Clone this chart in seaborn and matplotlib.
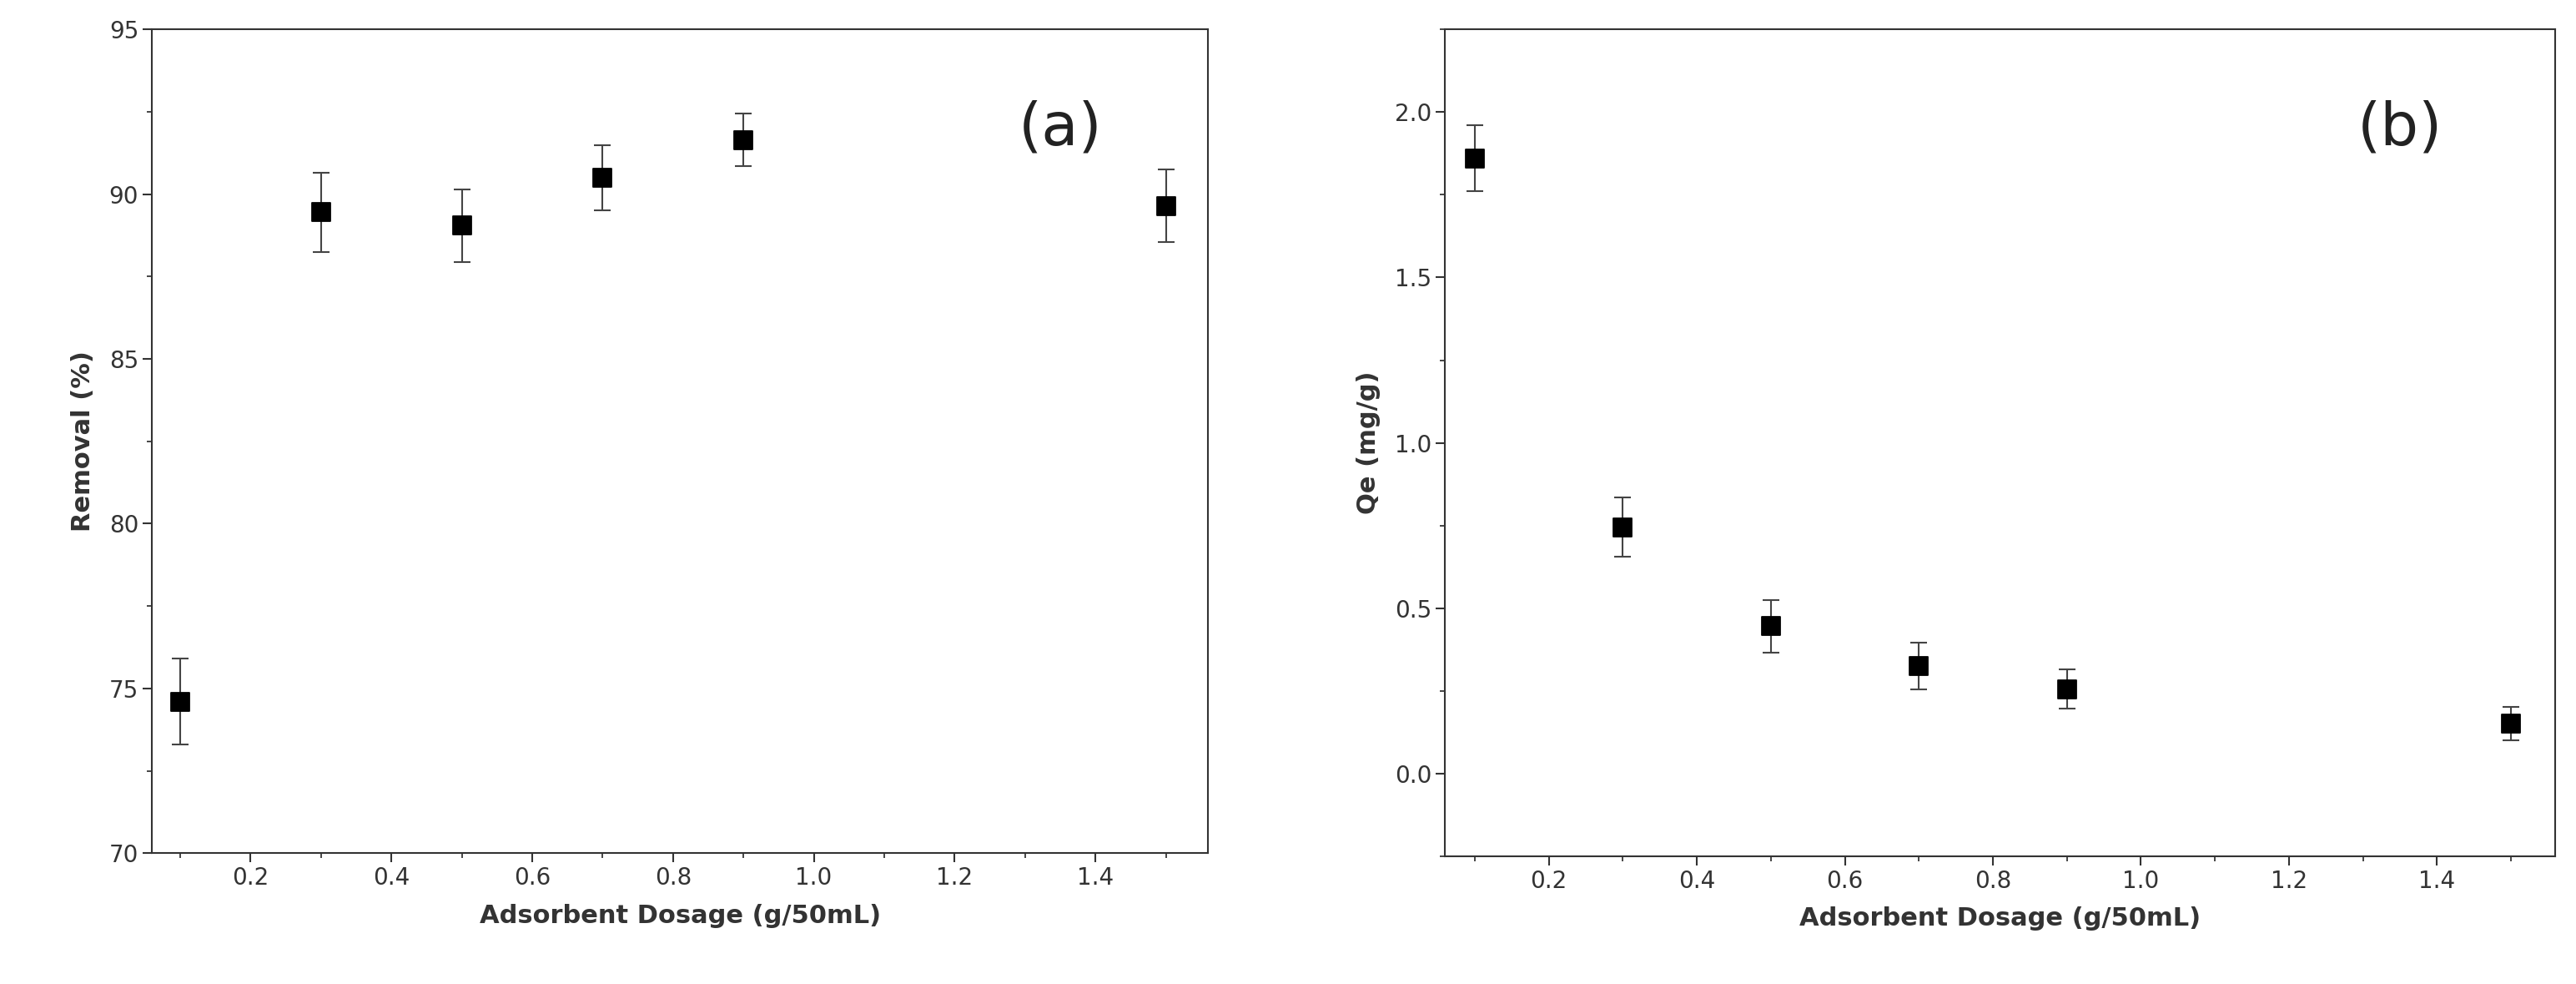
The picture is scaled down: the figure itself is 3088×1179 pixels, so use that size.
import numpy as np
import pandas as pd
import seaborn as sns
import matplotlib.pyplot as plt
from matplotlib.ticker import AutoMinorLocator

# ---------------- Data ----------------
dosage = [0.1, 0.3, 0.5, 0.7, 0.9, 1.5]
removal = [74.6, 89.45, 89.05, 90.5, 91.65, 89.65]
removal_err = [1.3, 1.2, 1.1, 1.0, 0.8, 1.1]
qe = [1.86, 0.745, 0.445, 0.325, 0.255, 0.15]
qe_err = [0.10, 0.09, 0.08, 0.07, 0.06, 0.05]

df = pd.DataFrame({'Dosage': dosage, 'Removal': removal, 'RemovalErr': removal_err,
                   'Qe': qe, 'QeErr': qe_err})

sns.set_style('ticks')
plt.rcParams['font.family'] = ['DejaVu Sans']

fig = plt.figure(figsize=(30.88, 11.79), dpi=100)
ax1 = fig.add_axes([0.059, 0.133, 0.41, 0.837])
ax2 = fig.add_axes([0.561, 0.130, 0.431, 0.840])

panels = [
    (ax1, 'Removal', 'RemovalErr', 'Removal (%)', (70, 95), np.arange(70, 96, 5), '{:.0f}', '(a)', 0.86),
    (ax2, 'Qe', 'QeErr', 'Qe (mg/g)', (-0.25, 2.25), np.arange(0, 2.01, 0.5), '{:.1f}', '(b)', 0.86),
]

for ax, col, err, ylabel, ylim, yticks, fmt, tag, tx in panels:
    ax.errorbar(df['Dosage'], df[col], yerr=df[err], fmt='none', ecolor='#444444',
                elinewidth=1.5, capsize=7, capthick=1.5, zorder=2)
    sns.scatterplot(data=df, x='Dosage', y=col, ax=ax, marker='s', s=260,
                    color='black', edgecolor='black', zorder=3)
    ax.set_xlim(0.06, 1.56)
    ax.set_ylim(*ylim)
    ax.set_xticks(np.arange(0.2, 1.41, 0.2))
    ax.set_xticklabels(['{:.1f}'.format(v) for v in np.arange(0.2, 1.41, 0.2)])
    ax.set_yticks(yticks)
    ax.set_yticklabels([fmt.format(v) for v in yticks])
    ax.xaxis.set_minor_locator(AutoMinorLocator(2))
    ax.yaxis.set_minor_locator(AutoMinorLocator(2))
    ax.tick_params(which='major', length=8, width=1.5, labelsize=20, colors='#333333')
    ax.tick_params(which='minor', length=4, width=1.2)
    ax.set_xlabel('Adsorbent Dosage (g/50mL)', fontsize=22, fontweight='bold', color='#333333', labelpad=12)
    ax.set_ylabel(ylabel, fontsize=22, fontweight='bold', color='#333333', labelpad=12)
    for s in ax.spines.values():
        s.set_visible(True)
        s.set_linewidth(1.5)
        s.set_color('#333333')
    ax.text(tx, 0.88, tag, transform=ax.transAxes, fontsize=52, ha='center', va='center', color='#222222')

fig.savefig('out.png', dpi=100)
